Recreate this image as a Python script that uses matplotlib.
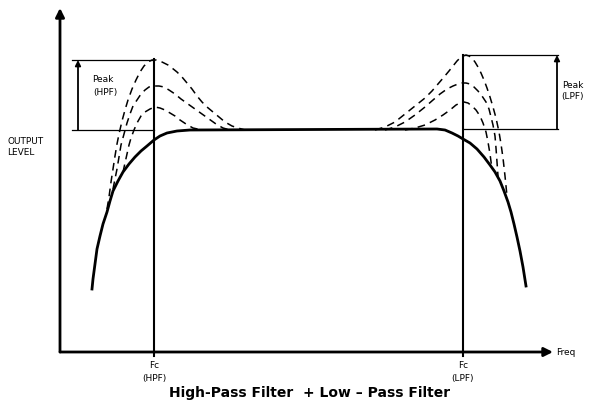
import matplotlib.pyplot as plt

# positions along the frequency axis / output level
flat_level = 222
fc_hpf = 94
fc_lpf = 403

solid_freq = [32, 33, 35, 37, 40, 43, 47, 50, 53, 58, 63, 69, 75, 81, 87, 94, 100, 107, 117, 130,
              377, 385, 392, 398, 403, 410, 417, 424, 430, 435, 440, 444, 448, 451, 454, 457, 460, 463, 466]
solid_level = [63, 73, 88, 103, 116, 128, 140, 151, 161, 171, 180, 188, 195, 201, 206, 212, 216, 219, 221, 222,
               223, 222, 219, 216, 213, 209, 203, 195, 187, 180, 171, 161, 150, 140, 128, 115, 101, 85, 66]

hpf_peak1_freq = [47, 49, 51, 53, 55, 57, 59, 62, 65, 68, 72, 76, 80, 84, 88, 92, 96, 100, 104, 108,
                  112, 117, 122, 127, 132, 137, 142, 147, 153, 159, 165, 172, 178, 185]
hpf_peak1_level = [143, 155, 170, 183, 196, 208, 218, 231, 242, 252, 263, 272, 280, 286, 290, 292, 292, 291, 289, 287,
                   284, 280, 275, 269, 263, 256, 250, 245, 240, 235, 230, 226, 224, 222]
hpf_peak2_freq = [53, 55, 57, 59, 61, 64, 67, 70, 73, 77, 81, 85, 89, 94, 99, 104, 109, 115, 121, 128,
                  135, 142, 149, 156, 163, 170]
hpf_peak2_level = [163, 173, 183, 195, 207, 218, 229, 238, 246, 252, 258, 262, 265, 266, 266, 265, 262, 258, 253, 248,
                   243, 238, 233, 228, 224, 222]
hpf_peak3_freq = [63, 65, 67, 69, 71, 74, 77, 81, 85, 90, 95, 100, 105, 110, 115, 120, 126, 133, 142]
hpf_peak3_level = [180, 189, 198, 207, 214, 222, 229, 236, 240, 243, 245, 244, 242, 239, 236, 232, 228, 224, 222]

lpf_peak1_freq = [315, 325, 335, 345, 355, 365, 372, 378, 384, 389, 393, 397, 400, 403, 406, 409, 412, 415, 418, 421,
                  424, 427, 430, 433, 436, 439, 441, 443, 445, 447]
lpf_peak1_level = [222, 225, 230, 238, 246, 254, 261, 268, 275, 281, 286, 291, 294, 296, 297, 296, 294, 290, 285, 279,
                   272, 264, 255, 245, 234, 220, 208, 194, 176, 156]
lpf_peak2_freq = [325, 335, 345, 355, 365, 373, 380, 387, 393, 398, 402, 406, 410, 414, 418, 422, 426, 429, 431, 433,
                  435, 436, 437, 438]
lpf_peak2_level = [222, 225, 230, 237, 245, 252, 258, 263, 266, 268, 269, 269, 268, 265, 261, 256, 250, 243, 235, 227,
                   216, 204, 190, 176]
lpf_peak3_freq = [345, 355, 365, 375, 383, 390, 396, 400, 404, 408, 412, 416, 420, 423, 426, 428, 430, 432]
lpf_peak3_level = [222, 224, 227, 232, 237, 242, 247, 249, 250, 249, 246, 242, 236, 229, 220, 210, 198, 183]

hpf_box = [12, 292]   # left edge, top level
lpf_box = [498, 297]  # right edge, top level

fig = plt.figure(figsize=(5.94, 4.02), dpi=100)
ax = fig.add_axes([60 / 594, 49 / 402, 534 / 594, 353 / 402])
ax.set_xlim(0, 534)
ax.set_ylim(0, 353)
ax.axis('off')

# axes with arrow heads
ax.annotate('', xy=(493, 0), xytext=(0, 0),
            arrowprops=dict(arrowstyle='-|>', lw=2, color='black', mutation_scale=13,
                            shrinkA=0, shrinkB=0))
ax.annotate('', xy=(0, 344), xytext=(0, 0),
            arrowprops=dict(arrowstyle='-|>', lw=2, color='black', mutation_scale=13,
                            shrinkA=0, shrinkB=0))

# cutoff lines
ax.plot([fc_hpf, fc_hpf], [-4, 293], color='black', lw=1.5, clip_on=False)
ax.plot([fc_lpf, fc_lpf], [-4, 297], color='black', lw=1.5, clip_on=False)

# peak boxes
ax.plot([hpf_box[0], fc_hpf], [hpf_box[1], hpf_box[1]], color='black', lw=0.9)
ax.plot([hpf_box[0], fc_hpf], [flat_level, flat_level], color='black', lw=0.9)
ax.annotate('', xy=(hpf_box[0] + 6, hpf_box[1]), xytext=(hpf_box[0] + 6, flat_level),
            arrowprops=dict(arrowstyle='-|>', lw=1.3, color='black', mutation_scale=8,
                            shrinkA=0, shrinkB=0))
ax.plot([fc_lpf, lpf_box[0]], [lpf_box[1], lpf_box[1]], color='black', lw=0.9, clip_on=False)
ax.plot([fc_lpf, lpf_box[0]], [flat_level + 1, flat_level + 1], color='black', lw=0.9, clip_on=False)
ax.annotate('', xy=(lpf_box[0] - 1, lpf_box[1]), xytext=(lpf_box[0] - 1, flat_level + 1),
            arrowprops=dict(arrowstyle='-|>', lw=1.3, color='black', mutation_scale=8,
                            shrinkA=0, shrinkB=0))

# response curves
ax.plot(solid_freq, solid_level, color='black', lw=2, solid_joinstyle='round')
for fx, ly in [(hpf_peak1_freq, hpf_peak1_level), (hpf_peak2_freq, hpf_peak2_level),
               (hpf_peak3_freq, hpf_peak3_level), (lpf_peak1_freq, lpf_peak1_level),
               (lpf_peak2_freq, lpf_peak2_level), (lpf_peak3_freq, lpf_peak3_level)]:
    ax.plot(fx, ly, color='black', lw=1.1, dashes=(5, 3.5))

# labels
small = dict(fontsize=6.5, color='black', clip_on=False)
ax.text(43, 273, 'Peak', ha='center', va='center', **small)
ax.text(45, 260, '(HPF)', ha='center', va='center', **small)
ax.text(502, 268, 'Peak', ha='left', va='center', **small)
ax.text(501, 256, '(LPF)', ha='left', va='center', **small)
ax.text(-53, 211, 'OUTPUT', ha='left', va='center', **small)
ax.text(-53, 200, 'LEVEL', ha='left', va='center', **small)
ax.text(fc_hpf, -13, 'Fc', ha='center', va='center', **small)
ax.text(fc_hpf, -26, '(HPF)', ha='center', va='center', **small)
ax.text(fc_lpf, -13, 'Fc', ha='center', va='center', **small)
ax.text(fc_lpf, -26, '(LPF)', ha='center', va='center', **small)
ax.text(496, 0, 'Freq', ha='left', va='center', **small)

fig.text(310 / 594, 1 - 393 / 402, 'High-Pass Filter  + Low \u2013 Pass Filter',
         ha='center', va='center', fontsize=10, fontweight='bold')

fig.savefig('out.png', dpi=100)
